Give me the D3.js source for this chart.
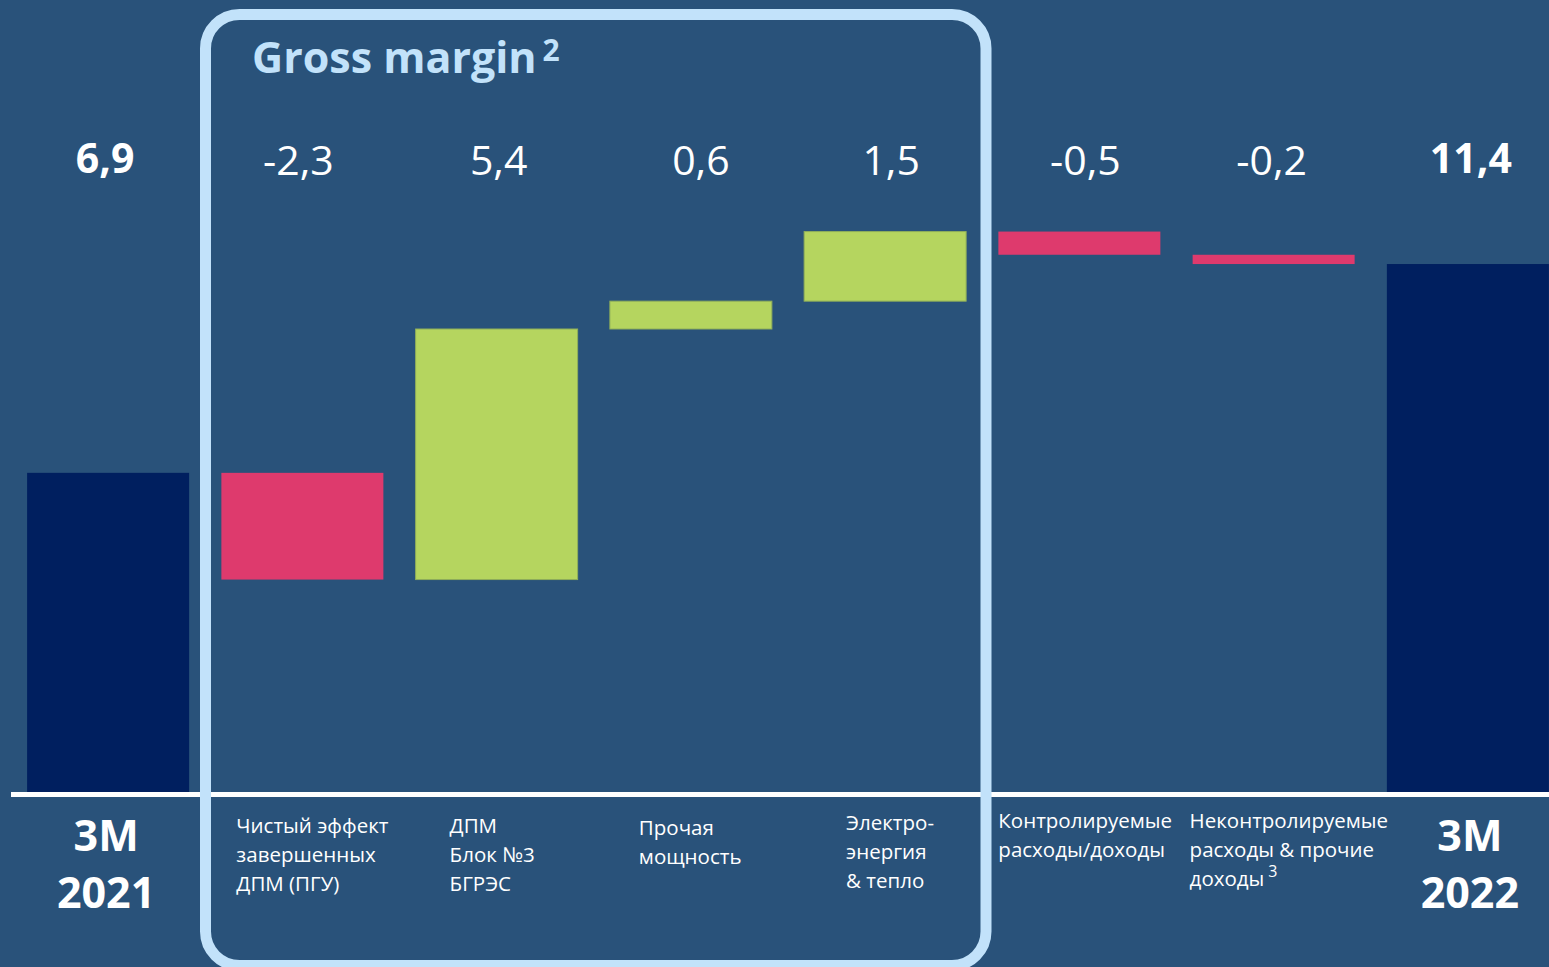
<!DOCTYPE html>
<html>
<head>
<meta charset="utf-8">
<script src="https://cdn.jsdelivr.net/npm/d3@7"></script>
<style>
  html, body { margin: 0; padding: 0; background: #29527a; }
  svg { display: block; font-family: 'Open Sans', 'Noto Sans', sans-serif; }
</style>
</head>
<body>
<div id="chart"></div>
<script>
// Chart data
const categories = [
    ['3M', '2021'],
    ['Чистый эффект', 'завершенных', 'ДПМ (ПГУ)'],
    ['ДПМ', 'Блок №3', 'БГРЭС'],
    ['Прочая', 'мощность'],
    ['Электро-', 'энергия', '& тепло'],
    ['Контролируемые', 'расходы/доходы'],
    ['Неконтролируемые', 'расходы & прочие', 'доходы'],
    ['3M', '2022']
];
const footnotes = ['', '', '', '', '', '', '3', ''];
const values = [6.9, -2.3, 5.4, 0.6, 1.5, -0.5, -0.2, 11.4];
const isTotal = [true, false, false, false, false, false, false, true];

// Layout (not data)
const labelOffsetX = [0, 15, 34, 29, 42, 0, -3, 0];
const labelBaseY = [833, 833, 833, 835, 830, 828, 828, 833];
const valueOffsetX = [-3, -4, 2, 10, 6, 6, -2, 3];

document.addEventListener('DOMContentLoaded', function() {
    const width = 1549, height = 967;

    const svg = d3.select('#chart')
        .append('svg')
        .attr('width', width)
        .attr('height', height);

    svg.append('rect')
        .attr('width', width)
        .attr('height', height)
        .attr('fill', '#29527a');

    // waterfall steps
    let running = 0;
    const data = values.map((v, i) => {
        let y0, y1;
        if (isTotal[i]) {
            y0 = 0; y1 = v; running = v;
        } else {
            y0 = running; y1 = running + v; running = y1;
        }
        return { i, value: v, y0, y1, total: isTotal[i], lines: categories[i], note: footnotes[i] };
    });

    const x = d3.scaleBand()
        .domain(d3.range(values.length))
        .range([11, 1565])
        .paddingInner(0.166)
        .paddingOuter(0.083);

    const y = d3.scaleLinear()
        .domain([0, 12.1])
        .range([793, 793 - 12.1 * 46.4]);

    const colorOf = d => d.total ? '#001f5f' : (d.value < 0 ? '#de3a6d' : '#b5d55f');

    // Bars
    svg.selectAll('.bar')
        .data(data)
        .enter()
        .append('rect')
        .attr('class', 'bar')
        .attr('x', d => x(d.i))
        .attr('y', d => y(Math.max(d.y0, d.y1)))
        .attr('width', x.bandwidth())
        .attr('height', d => Math.abs(y(d.y0) - y(d.y1)))
        .attr('fill', colorOf)
        .attr('stroke', d => (!d.total && d.value > 0) ? '#8fae5a' : 'none')
        .attr('stroke-width', 1);

    // Baseline
    svg.append('line')
        .attr('x1', 11)
        .attr('x2', width)
        .attr('y1', y(0) + 1.5)
        .attr('y2', y(0) + 1.5)
        .attr('stroke', '#ffffff')
        .attr('stroke-width', 5);

    // Value labels
    svg.selectAll('.val')
        .data(data)
        .enter()
        .append('text')
        .attr('class', 'val')
        .attr('x', d => x(d.i) + x.bandwidth() / 2 + valueOffsetX[d.i])
        .attr('y', d => d.total ? 173 : 175)
        .attr('text-anchor', 'middle')
        .attr('fill', '#ffffff')
        .style('font-size', '41px')
        .style('font-weight', d => d.total ? 700 : 400)
        .text(d => d.value.toFixed(1).replace('.', ','));

    // Category labels
    data.forEach(d => {
        const t = svg.append('text')
            .attr('fill', '#ffffff');
        if (d.total) {
            t.attr('text-anchor', 'middle')
                .style('font-size', '43px')
                .style('font-weight', 700);
            d.lines.forEach((line, k) => {
                t.append('tspan')
                    .attr('x', x(d.i) + x.bandwidth() / 2 + (d.i === 0 ? -2 : 2))
                    .attr('y', 851 + k * 57)
                    .text(line);
            });
        } else {
            t.style('font-size', '20.5px');
            d.lines.forEach((line, k) => {
                t.append('tspan')
                    .attr('x', x(d.i) + labelOffsetX[d.i])
                    .attr('y', labelBaseY[d.i] + k * 29)
                    .text(line);
            });
            if (d.note) {
                t.append('tspan')
                    .attr('dx', 4)
                    .attr('dy', -9)
                    .style('font-size', '16px')
                    .text(d.note);
            }
        }
    });

    // Gross margin frame
    svg.append('rect')
        .attr('x', 205.5)
        .attr('y', 14.5)
        .attr('width', 780.5)
        .attr('height', 951)
        .attr('rx', 34)
        .attr('ry', 34)
        .attr('fill', 'none')
        .attr('stroke', '#c2e2fa')
        .attr('stroke-width', 11);

    const title = svg.append('text')
        .attr('x', 252)
        .attr('y', 73)
        .attr('fill', '#c2e2fa')
        .style('font-size', '43px')
        .style('font-weight', 700)
        .text('Gross margin');
    title.append('tspan')
        .attr('dx', 6)
        .attr('dy', -12)
        .style('font-size', '30px')
        .text('2');
});
</script>
</body>
</html>
